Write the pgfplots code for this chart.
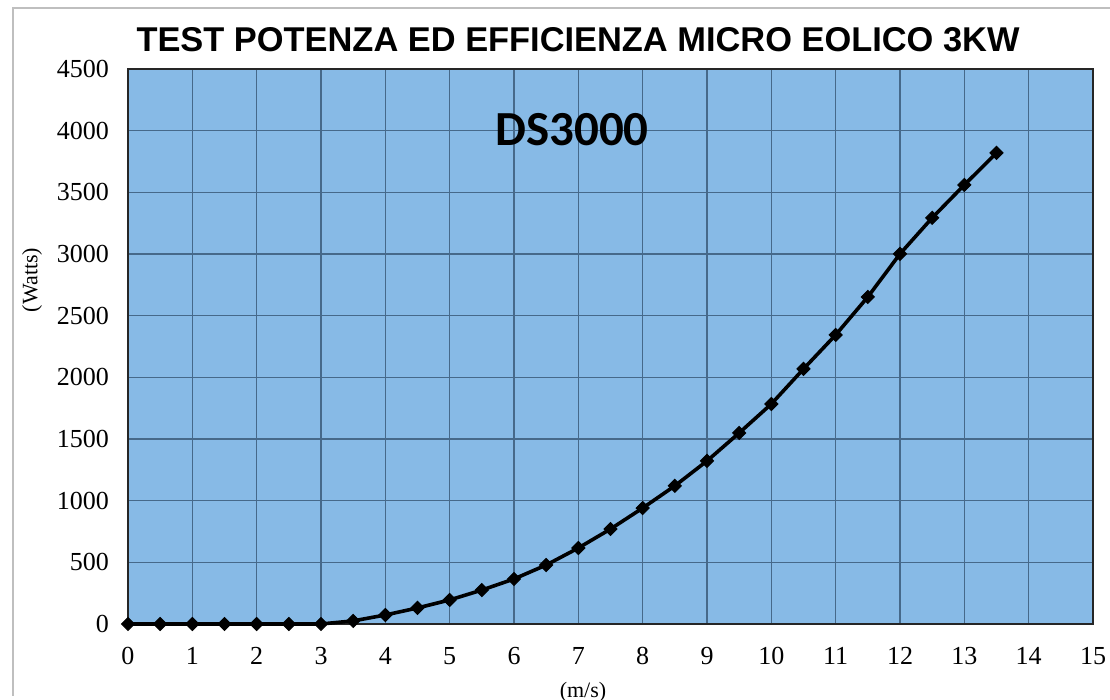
\documentclass[border=0pt]{standalone}
\usepackage{pgfplots}
\pgfplotsset{compat=1.18}
\usepackage{fontspec}
\setmainfont{Liberation Serif}
\newfontfamily\titlefont{Liberation Sans}
\newfontfamily\dsfont{Carlito}
\definecolor{plotbg}{HTML}{87BAE6}
\definecolor{gridc}{HTML}{46698A}
\begin{document}
\begin{tikzpicture}
\begin{axis}[
  scale only axis,
  width=482.5pt, height=277.5pt,
  xmin=0, xmax=15, ymin=0, ymax=4500,
  xtick={0,1,...,15}, ytick={0,500,...,4500},
  axis background/.style={fill=plotbg},
  grid=major,
  major grid style={gridc, line width=0.55pt},
  axis line style={black!85, line width=0.9pt},
  tick style={draw=none},
  /pgf/number format/assume math mode=true,
  /pgf/number format/1000 sep={},
  ticklabel style={font=\fontsize{13}{15}\selectfont},
  xticklabel style={yshift=-8pt},
  yticklabel style={xshift=-6pt},
  clip=false,
]
\addplot[black, line width=1.8pt, mark=square*, mark size=2.3pt, mark options={fill=black, rotate=45, line width=0.5pt}] coordinates {
(0,0) (0.5,0) (1,0) (1.5,0) (2,0) (2.5,0) (3,0)
(3.5,25) (4,73) (4.5,130) (5,195) (5.5,275) (6,365) (6.5,478)
(7,616) (7.5,770) (8,940) (8.5,1120) (9,1322) (9.5,1549)
(10,1784) (10.5,2068) (11,2344) (11.5,2652) (12,3001)
(12.5,3293) (13,3560) (13.5,3820)
};
\end{axis}
\node[font=\titlefont\bfseries\fontsize{17.2}{20}\selectfont] at (225pt,292pt) {TEST POTENZA ED EFFICIENZA MICRO EOLICO 3KW};
\node[font=\dsfont\bfseries\fontsize{24.5}{28}\selectfont] at (222pt,247pt) {DS3000};
\node[rotate=90, font=\fontsize{11}{13}\selectfont] at (-48pt,172pt) {(Watts)};
\node[font=\fontsize{11}{13}\selectfont] at (227.5pt,-34pt) {(m/s)};
\draw[black!25, line width=0.6pt] (-57.5pt,-36pt) -- (-57.5pt,308pt) -- (491pt,308pt);
\pgfresetboundingbox
\useasboundingbox (-64pt,-38pt) rectangle (491pt,312pt);
\end{tikzpicture}
\end{document}
